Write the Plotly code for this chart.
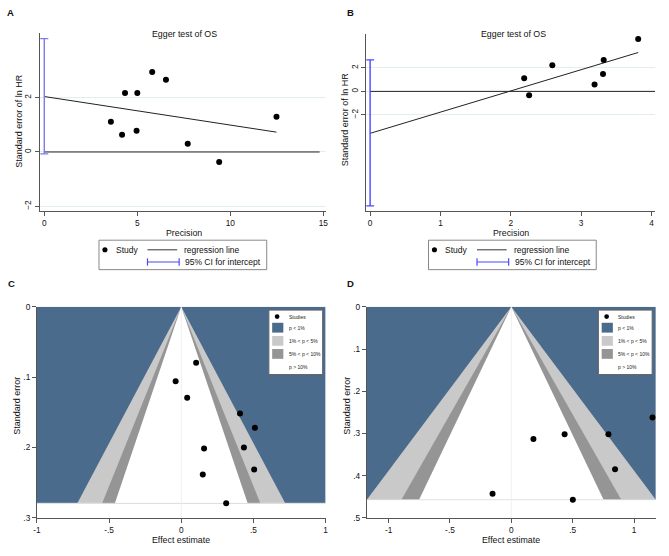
import plotly.graph_objects as go

# ---------------- data ----------------
# Panel A: Egger test (precision vs standardized effect)
A_precision = [3.58, 4.18, 4.34, 4.96, 5.00, 5.80, 6.54, 7.71, 9.40, 12.48]
A_std_effect = [1.11, 0.63, 2.17, 0.78, 2.17, 2.94, 2.66, 0.30, -0.37, 1.30]
A_intercept = 2.04
A_slope = -0.105
A_ci = [-0.07, 4.17]

# Panel B
B_precision = [2.19, 2.26, 2.59, 3.19, 3.31, 3.32, 3.81]
B_std_effect = [1.11, -0.33, 2.22, 0.58, 1.47, 2.67, 4.44]
B_intercept = -3.56
B_slope = 1.80
B_ci = [-9.72, 2.67]

# Panel C: contour-enhanced funnel plot
C_effect = [0.103, -0.039, 0.041, 0.407, 0.510, 0.158, 0.434, 0.149, 0.505, 0.311]
C_se = [0.0797, 0.106, 0.1295, 0.152, 0.172, 0.2018, 0.2004, 0.2386, 0.2316, 0.2796]

# Panel D
D_effect = [1.15, 0.18, 0.434, 0.791, 0.845, -0.153, 0.501]
D_se = [0.262, 0.313, 0.302, 0.3016, 0.385, 0.4426, 0.457]

# contour z-values: p<1%, p<5%, p<10%
Z_LEVELS = [2.576, 1.96, 1.645]

A_xticks = [0, 5, 10, 15]
B_xticks = [0, 1, 2, 3, 4]
AB_yticks = [-2, 0, 2]
C_xticks = [-1, -0.5, 0, 0.5, 1]
C_xticktext = ["-1", "-.5", "0", ".5", "1"]
C_yticks = [0, 0.1, 0.2, 0.3]
C_yticktext = ["0", ".1", ".2", ".3"]
D_yticks = [0, 0.1, 0.2, 0.3, 0.4, 0.5]
D_yticktext = ["0", ".1", ".2", ".3", ".4", ".5"]

legend_funnel = ["Studies", "p < 1%", "1% < p < 5%", "5% < p < 10%", "p > 10%"]

# ---------------- styling ----------------
W, H = 669, 556
FONT = "Liberation Sans, Arial, sans-serif"
BLUE = "#4a6b8c"
LGREY = "#c9c9c9"
DGREY = "#959595"
AXC = "#555555"
CI_A = "#7d7df2"
CI_B = "#4848ff"
GRID = "#e3eef0"


def fx(px):
    return px / W


def fy(py):
    return 1 - py / H


fig = go.Figure()

# ---------- Panel A ----------
fig.add_trace(go.Scatter(x=[0, 14.8], y=[0, 0], mode="lines",
                         line=dict(color="#222", width=1), xaxis="x", yaxis="y",
                         hoverinfo="skip", showlegend=False))
fig.add_trace(go.Scatter(x=[0, max(A_precision)],
                         y=[A_intercept, A_intercept + A_slope * max(A_precision)],
                         mode="lines", line=dict(color="#222", width=1),
                         xaxis="x", yaxis="y", showlegend=False))
fig.add_trace(go.Scatter(x=[0], y=[A_intercept], mode="markers",
                         marker=dict(size=1, opacity=0),
                         error_y=dict(type="data", symmetric=False,
                                      array=[A_ci[1] - A_intercept],
                                      arrayminus=[A_intercept - A_ci[0]],
                                      color=CI_A, thickness=1.4, width=4),
                         xaxis="x", yaxis="y", showlegend=False))
fig.add_trace(go.Scatter(x=A_precision, y=A_std_effect, mode="markers",
                         marker=dict(color="black", size=6),
                         xaxis="x", yaxis="y", showlegend=False))

# ---------- Panel B ----------
fig.add_trace(go.Scatter(x=[0, 4.05], y=[0, 0], mode="lines",
                         line=dict(color="#222", width=1), xaxis="x2", yaxis="y2",
                         hoverinfo="skip", showlegend=False))
fig.add_trace(go.Scatter(x=[0, max(B_precision)],
                         y=[B_intercept, B_intercept + B_slope * max(B_precision)],
                         mode="lines", line=dict(color="#222", width=1),
                         xaxis="x2", yaxis="y2", showlegend=False))
fig.add_trace(go.Scatter(x=[0], y=[B_intercept], mode="markers",
                         marker=dict(size=1, opacity=0),
                         error_y=dict(type="data", symmetric=False,
                                      array=[B_ci[1] - B_intercept],
                                      arrayminus=[B_intercept - B_ci[0]],
                                      color=CI_B, thickness=1.4, width=4),
                         xaxis="x2", yaxis="y2", showlegend=False))
fig.add_trace(go.Scatter(x=B_precision, y=B_std_effect, mode="markers",
                         marker=dict(color="black", size=6),
                         xaxis="x2", yaxis="y2", showlegend=False))


# ---------- funnel panels ----------
def add_funnel(effect, se, xr, xa, ya):
    semax = max(se)
    fig.add_trace(go.Scatter(x=[xr[0], xr[1], xr[1], xr[0], xr[0]],
                             y=[0, 0, semax, semax, 0], mode="lines",
                             fill="toself", fillcolor=BLUE, line=dict(width=0),
                             xaxis=xa, yaxis=ya, hoverinfo="skip", showlegend=False))
    for z, col in zip(Z_LEVELS, [LGREY, DGREY, "white"]):
        fig.add_trace(go.Scatter(x=[0, -z * semax, z * semax, 0],
                                 y=[0, semax, semax, 0], mode="lines",
                                 fill="toself", fillcolor=col, line=dict(width=0),
                                 xaxis=xa, yaxis=ya, hoverinfo="skip", showlegend=False))
    fig.add_trace(go.Scatter(x=[0, 0], y=[0, 1], mode="lines",
                             line=dict(color="#ececec", width=0.8),
                             xaxis=xa, yaxis=ya, hoverinfo="skip", showlegend=False))
    fig.add_trace(go.Scatter(x=[xr[0], xr[1]], y=[semax, semax], mode="lines",
                             line=dict(color="#e8e8e8", width=0.8),
                             xaxis=xa, yaxis=ya, hoverinfo="skip", showlegend=False))
    fig.add_trace(go.Scatter(x=effect, y=se, mode="markers",
                             marker=dict(color="black", size=6),
                             xaxis=xa, yaxis=ya, showlegend=False))


C_xrange = [-1, 1]
D_xrange = [-1.177, 1.177]
add_funnel(C_effect, C_se, C_xrange, "x3", "y3")
add_funnel(D_effect, D_se, D_xrange, "x4", "y4")

# ---------------- axes ----------------
tickfont = dict(family=FONT, size=8.3, color="#111")
common = dict(showline=True, linecolor=AXC, linewidth=1, ticks="outside",
              ticklen=4, tickcolor=AXC, tickwidth=1, zeroline=False,
              tickfont=tickfont, mirror=False)

layout = dict(
    width=W, height=H, margin=dict(l=0, r=0, t=0, b=0),
    paper_bgcolor="white", plot_bgcolor="white", showlegend=False,
    xaxis=dict(domain=[fx(36), fx(325)], range=[-0.25, 15.12], tickvals=A_xticks,
               showgrid=False, anchor="y", **common),
    yaxis=dict(domain=[fy(210), fy(29)], range=[-2.18, 4.36], tickvals=AB_yticks,
               tickangle=-90, showgrid=True, gridcolor=GRID, gridwidth=1,
               anchor="x", **common),
    xaxis2=dict(domain=[fx(366), fx(658.3)], range=[-0.056, 4.055], tickvals=B_xticks,
                showgrid=False, anchor="y2", **common),
    yaxis2=dict(domain=[fy(210), fy(30)], range=[-10.17, 4.83], tickvals=AB_yticks,
                tickangle=-90, showgrid=True, gridcolor=GRID, gridwidth=1,
                anchor="x2", **common),
    xaxis3=dict(domain=[fx(33.3), fx(325)], range=C_xrange, tickvals=C_xticks,
                ticktext=C_xticktext, showgrid=False, anchor="y3", **common),
    yaxis3=dict(domain=[fy(522), fy(307.3)], range=[0.3, 0], tickvals=C_yticks,
                ticktext=C_yticktext, showgrid=False, anchor="x3", **common),
    xaxis4=dict(domain=[fx(366.7), fx(658.7)], range=D_xrange, tickvals=C_xticks,
                ticktext=C_xticktext, showgrid=False, anchor="y4", **common),
    yaxis4=dict(domain=[fy(522.3), fy(307.3)], range=[0.5, 0], tickvals=D_yticks,
                ticktext=D_yticktext, showgrid=False, anchor="x4", **common),
)

annotations = []
shapes = []


def ann(text, px, py, size=8.5, bold=False, angle=0, xanchor="center",
        yanchor="middle", color="#111"):
    annotations.append(dict(
        text=f"<b>{text}</b>" if bold else text, x=fx(px), y=fy(py),
        xref="paper", yref="paper", showarrow=False, textangle=angle,
        font=dict(family=FONT, size=size, color=color),
        xanchor=xanchor, yanchor=yanchor))


def rect(x0, y0, x1, y1, fill="white", line="#777", lw=1):
    shapes.append(dict(type="rect", xref="paper", yref="paper",
                       x0=fx(x0), x1=fx(x1), y0=fy(y0), y1=fy(y1),
                       fillcolor=fill, line=dict(color=line, width=lw)))


def seg(x0, y0, x1, y1, color="#222", lw=1):
    shapes.append(dict(type="line", xref="paper", yref="paper",
                       x0=fx(x0), x1=fx(x1), y0=fy(y0), y1=fy(y1),
                       line=dict(color=color, width=lw)))


def dot(cx, cy, r=2.6):
    shapes.append(dict(type="circle", xref="paper", yref="paper",
                       x0=fx(cx - r), x1=fx(cx + r), y0=fy(cy + r), y1=fy(cy - r),
                       fillcolor="black", line=dict(color="black", width=0)))


# panel letters
ann("A", 7, 8, size=9.5, bold=True)
ann("B", 350, 8, size=9.5, bold=True)
ann("C", 8, 283.5, size=9.5, bold=True)
ann("D", 350, 283.5, size=9.5, bold=True)

# titles & axis titles
ann("Egger test of OS", 182, 29.5, size=8.8)
ann("Egger test of OS", 515, 29.5, size=8.8)
ann("Precision", 181.5, 232, size=8.8)
ann("Precision", 512, 232, size=8.8)
ann("Standard error of ln HR", 15, 118, size=9, angle=-90)
ann("Standard error of ln HR", 345, 116, size=9, angle=-90)
ann("Effect estimate", 179, 544.5, size=8.8)
ann("Effect estimate", 512.7, 544.5, size=8.8)
ann("Standard error", 13.3, 408, size=9, angle=-90)
ann("Standard error", 346.7, 408, size=9, angle=-90)


# Egger legends
def egger_legend(dx, ci_color):
    rect(96 + dx, 239.5, 265.5 + dx, 269.5, line="#888")
    dot(102 + dx, 249.3)
    ann("Study", 111 + dx, 249.3, size=8.5, xanchor="left")
    seg(145 + dx, 249.3, 175 + dx, 249.3, color="#333", lw=1)
    ann("regression line", 180 + dx, 249.3, size=8.5, xanchor="left")
    seg(145 + dx, 261.7, 177 + dx, 261.7, color=ci_color, lw=1.2)
    seg(145 + dx, 258, 145 + dx, 265.4, color=ci_color, lw=1.2)
    seg(177 + dx, 258, 177 + dx, 265.4, color=ci_color, lw=1.2)
    ann("95% CI for intercept", 181 + dx, 261.7, size=8.5, xanchor="left")


egger_legend(0, "#4a4af0")
egger_legend(333, "#4848ff")


# funnel legends
def funnel_legend(dx):
    rect(267.7 + dx, 310.7, 322 + dx, 376.3, line="#666")
    rows = [317.3, 328.6, 342.0, 355.3, 368.6]
    dot(276 + dx, rows[0], r=2.4)
    for ry, col in zip(rows[1:4], [BLUE, LGREY, DGREY]):
        rect(271 + dx, ry - 5, 282.3 + dx, ry + 5, fill=col, line=col, lw=0)
    for ry, lab in zip(rows, legend_funnel):
        ann(lab, 285.7 + dx, ry, size=5, xanchor="left", color="#222")


funnel_legend(0)
funnel_legend(333)

layout["annotations"] = annotations
layout["shapes"] = shapes
fig.update_layout(**layout)

fig.write_html(
    "out.html",
    config={"displayModeBar": False},
    post_script="document.body.style.margin='0';document.body.style.padding='0';"
                "document.body.style.overflow='hidden';",
)
